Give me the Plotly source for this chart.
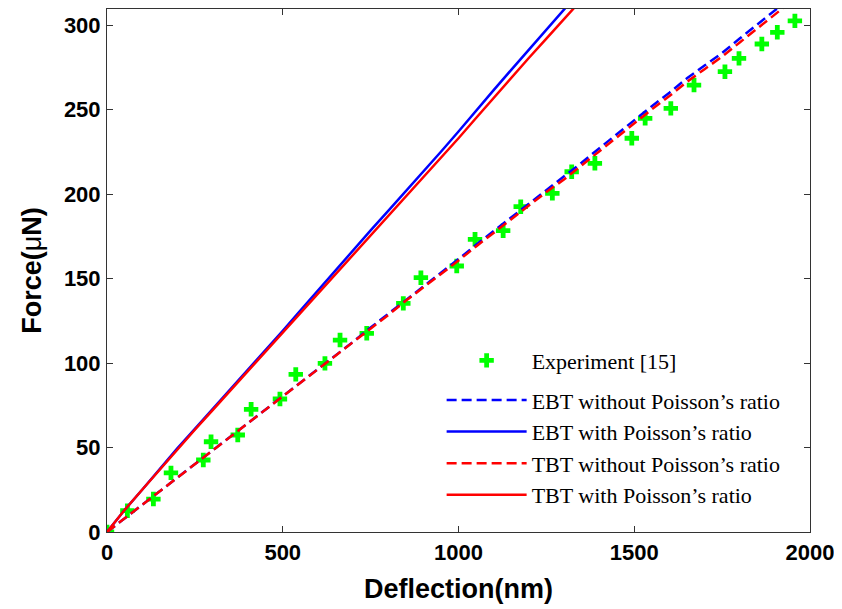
import plotly.graph_objects as go

# Experiment [15]
exp_x = [0, 58, 132, 182, 274, 296, 372, 410, 492, 537, 620, 663, 739, 843, 893, 995,
         1047, 1127, 1177, 1267, 1322, 1388, 1493, 1531, 1604, 1670, 1758, 1798, 1863, 1907, 1957]
exp_y = [0, 12.6, 19.5, 35, 42.6, 53.4, 57.4, 72.6, 78.7, 93.3, 99.8, 113.6, 117.6, 135.3, 150.5, 157.4,
         173.2, 178.3, 192.5, 200.4, 213.2, 218.2, 233, 244.8, 250.7, 264.5, 272.4, 280.3, 288.8, 295.7, 302.5]

# Model curves (deflection in nm)
dash_x = [0, 50, 100, 150, 200, 250, 300, 350, 400, 450, 500, 550, 600, 650, 700, 750, 800, 850, 900, 950,
          1000, 1050, 1100, 1150, 1200, 1250, 1300, 1350, 1400, 1450, 1500, 1550, 1600, 1650, 1700, 1750,
          1800, 1850, 1900, 1950]
ebt_without = [0, 8, 16, 24, 32, 40.5, 48.5, 56.5, 64.5, 72.5, 80.5, 88.5, 96.5, 104.5, 112.5, 121, 129, 137.5,
               145.5, 153.5, 161.5, 170, 178, 186, 194.5, 202.5, 210, 218.5, 227, 235.5, 244, 252, 260, 268.5,
               276, 283.5, 292, 300.5, 309, 317]
tbt_without = [0, 8, 16, 24, 32, 40.3, 48.3, 56.3, 64.2, 72.2, 80.2, 88.1, 96.1, 104, 112, 120.4, 128.4, 136.8,
               144.7, 152.6, 160.6, 169, 177, 184.9, 193.3, 201.2, 208.6, 217, 225.4, 233.8, 242.2, 250.1, 258,
               266.4, 273.9, 281.3, 289.7, 298.1, 306.5, 314.5]

solid_x = [0, 50, 100, 150, 200, 250, 300, 350, 400, 450, 500, 550, 600, 650, 700, 750, 800, 850, 900, 950,
           1000, 1050, 1100, 1150, 1200, 1250, 1300, 1350]
ebt_with = [0, 13, 25, 37.5, 49.5, 61, 72.5, 84.5, 96, 107.5, 119, 131, 143, 155, 167, 178.5, 190, 201.5,
            213, 225, 237, 249.5, 261.5, 273.5, 285.5, 297.5, 309, 321]
tbt_with = [0, 13, 25, 37, 49, 60.5, 72, 83.5, 95, 106, 117.5, 129, 141, 152.5, 164, 175.5, 187, 198.5,
            209.5, 221, 233, 245, 257, 268.5, 280.5, 292, 303.5, 315]

x_ticks = [0, 500, 1000, 1500, 2000]
y_ticks = [0, 50, 100, 150, 200, 250, 300]

fig = go.Figure()
fig.add_trace(go.Scatter(x=exp_x, y=exp_y, mode="markers", name="Experiment [15]",
                         legendgroup="exp",
                         marker=dict(symbol="cross", size=12, color="#00FF00")))
fig.add_trace(go.Scatter(x=dash_x, y=ebt_without, mode="lines", name="EBT without Poisson\u2019s ratio",
                         legendgroup="model",
                         line=dict(color="#0000FF", width=2.5, dash="10px,5px")))
fig.add_trace(go.Scatter(x=solid_x, y=ebt_with, mode="lines", name="EBT with Poisson\u2019s ratio",
                         legendgroup="model",
                         line=dict(color="#0000FF", width=2.5)))
fig.add_trace(go.Scatter(x=dash_x, y=tbt_without, mode="lines", name="TBT without Poisson\u2019s ratio",
                         legendgroup="model",
                         line=dict(color="#FF0000", width=2.5, dash="10px,5px")))
fig.add_trace(go.Scatter(x=solid_x, y=tbt_with, mode="lines", name="TBT with Poisson\u2019s ratio",
                         legendgroup="model",
                         line=dict(color="#FF0000", width=2.5)))

axis_common = dict(showgrid=False, zeroline=False, showline=True, linecolor="#333333", linewidth=1,
                   mirror="ticks", ticks="inside", ticklen=6, tickcolor="#333333", automargin=False,
                   tickfont=dict(family="Liberation Sans, Arial", size=22, color="black", weight="bold"))

fig.update_layout(
    width=834, height=601,
    margin=dict(l=99, r=32, t=1, b=77),
    paper_bgcolor="white", plot_bgcolor="white",
    xaxis=dict(range=[0, 2000], tickvals=x_ticks, ticktext=[str(v) for v in x_ticks],
               title=dict(text="<b>Deflection(nm)</b>", standoff=14,
                          font=dict(family="Liberation Sans, Arial", size=27, color="black")),
               ticklabelstandoff=1, **axis_common),
    yaxis=dict(range=[0, 309.5], tickvals=y_ticks, ticktext=[str(v) for v in y_ticks],
               title=dict(text="<b>Force(</b>\u03bc<b>N)</b>", standoff=14,
                          font=dict(family="Liberation Sans, Arial", size=27, color="black")),
               ticklabelstandoff=1, **axis_common),
    legend=dict(x=0.476, y=0.368, xanchor="left", yanchor="top",
                bgcolor="rgba(255,255,255,0)", borderwidth=0,
                font=dict(family="Liberation Serif, Times New Roman", size=22, color="black"),
                itemwidth=80, tracegroupgap=8, traceorder="grouped"),
    showlegend=True,
)

fig.write_html("out.html")
